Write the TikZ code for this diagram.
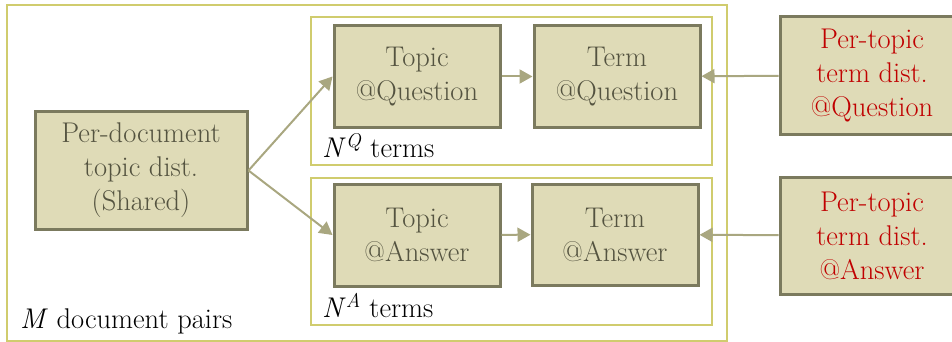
\documentclass[tikz,border=0pt]{standalone}
\usetikzlibrary{arrows.meta}
\definecolor{boxfill}{HTML}{DFDBB7}
\definecolor{boxline}{HTML}{7B7A5E}
\definecolor{boxtext}{HTML}{545340}
\definecolor{plateline}{HTML}{D0CC6E}
\definecolor{arrowcol}{HTML}{A9A780}
\definecolor{disttext}{HTML}{C00000}
\begin{document}
\begin{tikzpicture}[
			x=1pt, y=-1pt,
			font=\fontsize{28.5}{34}\selectfont,
			box/.style={align=center, draw=boxline, line width=3pt, fill=boxfill, text=boxtext, inner sep=0pt},
			plate/.style={draw=plateline, line width=2pt, inner sep=0pt},
			lbl/.style={anchor=base west, inner sep=0pt},
			conn/.style={->, draw=arrowcol, fill=arrowcol, line width=2pt},
			>={Triangle[length=13pt,width=14pt]}]
	
		\useasboundingbox (0,0) rectangle (952,342);
	
		\node[plate, minimum width=720, minimum height=336](pairs) at (367,173) {};
		\node[plate, minimum width=401, minimum height=148](plateq) at (511.5,91) {};
		\node[plate, minimum width=401, minimum height=147](platea) at (511.5,251.5) {};
	
		\node[box, minimum width=212, minimum height=117](shared) at (141,170.5) {Per-document\\topic dist.\\(Shared)};
		\node[box, minimum width=166, minimum height=101](topicq) at (417,76.5) {Topic\\@Question};
		\node[box, minimum width=166, minimum height=101](termq) at (617,76.5) {Term\\@Question};
		\node[box, minimum width=166, minimum height=102](topica) at (417,235) {Topic\\@Answer};
		\node[box, minimum width=166, minimum height=101](terma) at (615,234.5) {Term\\@Answer};
		\node[box, text=disttext, minimum width=184, minimum height=117](distq) at (872,75.5) {Per-topic\\term dist.\\@Question};
		\node[box, text=disttext, minimum width=184, minimum height=117](dista) at (872,235.5) {Per-topic\\term dist.\\@Answer};
	
		\node[lbl](nq) at (322,157) {\textit{N}\textsuperscript{\textit{Q}} terms};
		\node[lbl](na) at (322,317) {\textit{N}\textsuperscript{\textit{A}} terms};
		\node[lbl](m) at (20,328) {\textit{M} document pairs};
	
		\draw[conn] (shared.east) -- (topicq.west);
		\draw[conn] (shared.east) -- (topica.west);
		\draw[conn] (topicq) -- (termq);
		\draw[conn] (topica) -- (terma);
		\draw[conn] (distq) -- (termq);
		\draw[conn] (dista) -- (terma);
	\end{tikzpicture}
\end{document}
